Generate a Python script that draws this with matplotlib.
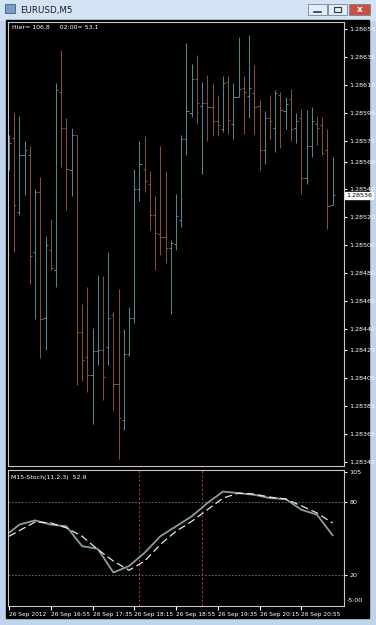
import matplotlib.pyplot as plt
from matplotlib.patches import Rectangle
import numpy as np

# EURUSD M5, 26 Sep 2012, first bar 16:15 (broker time)
opens = [1.28568, 1.28577, 1.28524, 1.28565, 1.28565, 1.28495, 1.28538, 1.28448, 1.28497, 1.28482,
         1.28610, 1.28584, 1.28554, 1.28579, 1.28438, 1.28420, 1.28407, 1.28424, 1.28425, 1.28427,
         1.28450, 1.28401, 1.28375, 1.28422, 1.28448, 1.28540, 1.28555, 1.28544, 1.28522, 1.28508,
         1.28506, 1.28498, 1.28501, 1.28518, 1.28576, 1.28595, 1.28619, 1.28600, 1.28602, 1.28599,
         1.28589, 1.28583, 1.28617, 1.28587, 1.28606, 1.28613, 1.28607, 1.28609, 1.28600, 1.28568,
         1.28591, 1.28584, 1.28608, 1.28596, 1.28605, 1.28584, 1.28591, 1.28548, 1.28571, 1.28587,
         1.28586, 1.28568, 1.28529]
highs = [1.28579, 1.28595, 1.28593, 1.28575, 1.28571, 1.28540, 1.28549, 1.28507, 1.28519, 1.28616,
         1.28640, 1.28591, 1.28584, 1.28579, 1.28458, 1.28470, 1.28441, 1.28479, 1.28478, 1.28495,
         1.28452, 1.28469, 1.28440, 1.28456, 1.28555, 1.28575, 1.28578, 1.28553, 1.28535, 1.28571,
         1.28553, 1.28504, 1.28537, 1.28579, 1.28645, 1.28630, 1.28636, 1.28617, 1.28622, 1.28616,
         1.28608, 1.28621, 1.28621, 1.28616, 1.28649, 1.28621, 1.28651, 1.28629, 1.28604, 1.28596,
         1.28608, 1.28611, 1.28610, 1.28606, 1.28612, 1.28595, 1.28598, 1.28597, 1.28599, 1.28593,
         1.28592, 1.28583, 1.28563]
lows = [1.28554, 1.28495, 1.28522, 1.28536, 1.28472, 1.28447, 1.28419, 1.28425, 1.28482, 1.28470,
        1.28556, 1.28525, 1.28535, 1.28400, 1.28403, 1.28395, 1.28372, 1.28414, 1.28389, 1.28414,
        1.28382, 1.28347, 1.28368, 1.28421, 1.28444, 1.28532, 1.28538, 1.28511, 1.28482, 1.28493,
        1.28487, 1.28451, 1.28497, 1.28513, 1.28565, 1.28592, 1.28587, 1.28551, 1.28575, 1.28578,
        1.28578, 1.28581, 1.28580, 1.28576, 1.28606, 1.28580, 1.28591, 1.28580, 1.28554, 1.28558,
        1.28576, 1.28567, 1.28570, 1.28583, 1.28575, 1.28573, 1.28537, 1.28544, 1.28563, 1.28572,
        1.28565, 1.28512, 1.28529]
closes = [1.28573, 1.28529, 1.28565, 1.28568, 1.28492, 1.28538, 1.28447, 1.28500, 1.28484, 1.28611,
          1.28584, 1.28555, 1.28579, 1.28438, 1.28418, 1.28407, 1.28424, 1.28425, 1.28406, 1.28448,
          1.28401, 1.28376, 1.28422, 1.28448, 1.28540, 1.28558, 1.28546, 1.28522, 1.28509, 1.28506,
          1.28498, 1.28502, 1.28521, 1.28576, 1.28596, 1.28619, 1.28602, 1.28602, 1.28599, 1.28589,
          1.28586, 1.28616, 1.28590, 1.28606, 1.28612, 1.28610, 1.28613, 1.28599, 1.28568, 1.28591,
          1.28589, 1.28609, 1.28597, 1.28601, 1.28583, 1.28589, 1.28548, 1.28571, 1.28589, 1.28584,
          1.28566, 1.28528, 1.28536]

price_ticks = [1.28655, 1.28635, 1.28615, 1.28595, 1.28575, 1.28560, 1.28540, 1.28520, 1.28500,
               1.28480, 1.28460, 1.28440, 1.28425, 1.28405, 1.28385, 1.28365, 1.28345]

# M15 stochastic drawn on the M5 chart (one point per M15 bar)
stoch_bars = [0, 2, 5, 8, 11, 14, 17, 20, 23, 26, 29, 32, 35, 38, 41, 44, 47, 50, 53, 56, 59, 62]
stoch_main = [54.9, 61.7, 65.2, 61.7, 60.3, 43.9, 41.8, 22.1, 27.5, 38.5, 52.1, 60.3, 68.5, 79.5,
              89.0, 87.7, 86.3, 83.6, 82.8, 74.0, 69.9, 52.9]
stoch_signal = [52.1, 56.8, 63.9, 63.1, 59.0, 52.1, 41.2, 31.6, 24.0, 31.6, 45.3, 56.2, 64.4, 74.0,
                83.6, 87.7, 86.9, 84.4, 82.8, 77.3, 71.3, 63.1]
session_bars = [25, 37]

time_ticks = [0, 8, 16, 24, 32, 40, 48, 56]
time_labels = ["26 Sep 2012", "26 Sep 16:55", "26 Sep 17:35", "26 Sep 18:15",
               "26 Sep 18:55", "26 Sep 19:35", "26 Sep 20:15", "26 Sep 20:55"]

W, H = 376, 625
UP = "#55858b"
DOWN = "#84503f"
FRAME = "#c8c8c8"

fig = plt.figure(figsize=(W / 100, H / 100), dpi=100)
fig.patch.set_facecolor("#bfd4ec")


def px_axes(x0, y0, x1, y1):
    return fig.add_axes([x0 / W, 1 - y1 / H, (x1 - x0) / W, (y1 - y0) / H])


# window chrome, in pixel coordinates
chrome = px_axes(0, 0, W, H)
chrome.set_xlim(0, W)
chrome.set_ylim(H, 0)
chrome.axis("off")
chrome.add_patch(Rectangle((0, 0), W, 20, color="#d3e3f4"))
chrome.add_patch(Rectangle((6, 20), 363, 598, color="black"))
chrome.add_patch(Rectangle((5, 4), 10, 9, facecolor="#7a9cc4", edgecolor="#3d5f8a", lw=0.6))
chrome.text(20, 10.5, "EURUSD,M5", fontsize=6.3, va="center", color="#1a1a1a")
for x0, w, fc in [(308, 19, "#e3edf8"), (328, 19, "#e3edf8"), (349, 21, "#c9503f")]:
    chrome.add_patch(Rectangle((x0, 4), w, 11, facecolor=fc, edgecolor="#6f84a0", lw=0.6))
chrome.plot([314, 321], [11.5, 11.5], color="#333333", lw=1.2)
chrome.add_patch(Rectangle((334, 7), 7, 5, fill=False, edgecolor="#333333", lw=0.8))
chrome.text(359.5, 9.5, "x", fontsize=6.5, color="white", ha="center", va="center", weight="bold")

# main price chart
ax = px_axes(8, 22, 344, 466)
ax.set_facecolor("black")
x = np.arange(len(closes))
cols = [UP if c >= o else DOWN for o, c in zip(opens, closes)]
ax.vlines(x, lows, highs, colors=cols, lw=0.75)
ax.hlines(opens, x - 0.42, x, colors=cols, lw=0.75)
ax.hlines(closes, x, x + 0.42, colors=cols, lw=0.75)
ax.set_xlim(-0.19, 64.18)
ax.set_ylim(1.283419, 1.2866)
ax.yaxis.tick_right()
ax.set_yticks(price_ticks)
ax.set_yticklabels([f"{p:.5f}" for p in price_ticks])
ax.tick_params(axis="y", colors="white", labelsize=4.6, length=2.5, pad=1.5)
ax.set_xticks([])
for s in ax.spines.values():
    s.set_color(FRAME)
    s.set_linewidth(0.8)
ax.text(0.012, 0.993, "Hier= 106.8     02:00= 53.1", transform=ax.transAxes,
        fontsize=4.5, color="white", va="top")

# current price box
last = closes[-1]
ax.text(1.006, last, f"{last:.5f}", transform=ax.get_yaxis_transform(), fontsize=4.6,
        color="black", va="center", ha="left",
        bbox=dict(boxstyle="square,pad=0.15", fc="white", ec="white"), clip_on=False)

# clock text
for yy, t, lab in [(395, "18:27", "GMT"), (405, "14:27", "Montreal:"), (415, "21:27", "Broker:")]:
    chrome.text(38, yy, t, fontsize=6.8, color="#e8e8e8", va="center", family="Liberation Sans")
    chrome.text(68, yy, lab, fontsize=6.8, color="#e8e8e8", va="center", family="Liberation Sans")

# stochastic sub-window
ax2 = px_axes(8, 470, 344, 606)
ax2.set_facecolor("black")
ax2.set_xlim(-0.19, 64.18)
ax2.set_ylim(-5.5, 106.8)
for lvl in (80, 20):
    ax2.axhline(lvl, color="#7a7a7a", lw=0.6, ls=(0, (2, 2)))
for b in session_bars:
    ax2.axvline(b, color="#b03030", lw=0.8, ls=(0, (2, 2)))
ax2.plot(stoch_bars, stoch_main, color="#8a9e9e", lw=1.3)
ax2.plot(stoch_bars, stoch_signal, color="#e6e6e6", lw=0.9, ls=(0, (6, 3)))
ax2.yaxis.tick_right()
ax2.set_yticks([105, 80, 20])
ax2.tick_params(axis="y", colors="white", labelsize=4.6, length=2.5, pad=1.5)
ax2.set_xticks(time_ticks)
ax2.set_xticklabels(time_labels)
ax2.tick_params(axis="x", colors="white", labelsize=4.2, length=3, pad=1.5)
for lab in ax2.get_xticklabels():
    lab.set_ha("left")
for s in ax2.spines.values():
    s.set_color(FRAME)
    s.set_linewidth(0.8)
ax2.text(0.008, 0.96, "M15-Stoch(11,2,3)  52.9", transform=ax2.transAxes,
         fontsize=4.5, color="white", va="top")
chrome.text(347, 600, "-5.00", fontsize=4.6, color="white", va="center")

fig.savefig("out.png", dpi=100, facecolor=fig.get_facecolor())
